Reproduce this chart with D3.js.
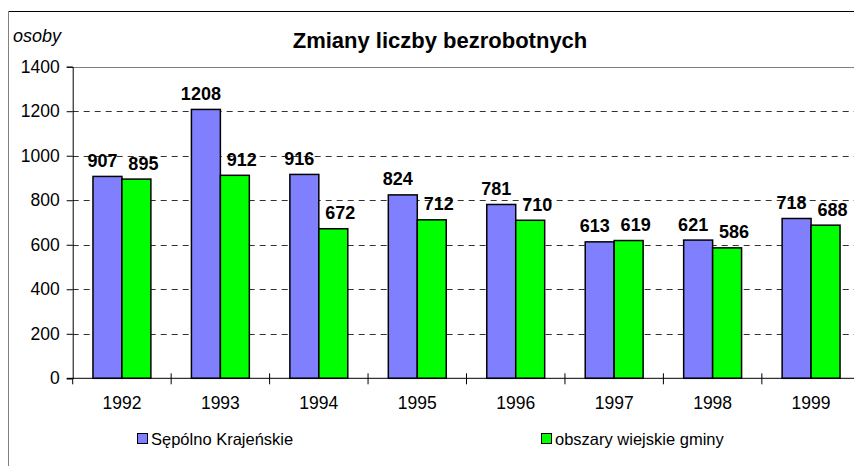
<!DOCTYPE html>
<html>
<head>
<meta charset="utf-8">
<script src="https://cdn.jsdelivr.net/npm/d3@7"></script>
<style>
  html, body { margin: 0; padding: 0; background: #fff; }
  svg { display: block; }
  text { font-family: "Liberation Sans", Arial, sans-serif; }
</style>
</head>
<body>
<svg id="chart" width="854" height="466"></svg>
<script>
const years = ["1992", "1993", "1994", "1995", "1996", "1997", "1998", "1999"];
const seriesNames = ["Sępólno Krajeńskie", "obszary wiejskie gminy"];
const sepolno = [907, 1208, 916, 824, 781, 613, 621, 718];
const wiejskie = [895, 912, 672, 712, 710, 619, 586, 688];
const yTicks = [0, 200, 400, 600, 800, 1000, 1200, 1400];
const colors = ["#8080FF", "#00FF00"];
const titleText = "Zmiany liczby bezrobotnych";
const unitText = "osoby";

const svg = d3.select("#chart");

// outer frame
svg.append("line").attr("x1", 8.5).attr("x2", 854).attr("y1", 11.5).attr("y2", 11.5)
  .attr("stroke", "#000").attr("stroke-width", 1);
svg.append("line").attr("x1", 8.5).attr("x2", 8.5).attr("y1", 11.5).attr("y2", 466)
  .attr("stroke", "#808080").attr("stroke-width", 1);

const x0 = d3.scaleBand().domain(years).range([72.7, 860.3]).padding(0);
const x1 = d3.scaleBand().domain(seriesNames).range([0, x0.bandwidth()]).paddingInner(0).paddingOuter(0.7);
const y = d3.scaleLinear().domain([0, 1400]).range([378.3, 66.7]);
const labelShift = [-5, 7];

// gridlines
const grid = svg.append("g");
grid.selectAll("line.g").data(yTicks.filter(d => d > 0 && d < 1400)).enter().append("line")
  .attr("x1", 72.7).attr("x2", 860).attr("y1", d => Math.round(y(d)) + 0.5).attr("y2", d => Math.round(y(d)) + 0.5)
  .attr("stroke", "#333").attr("stroke-dasharray", "6,5").attr("stroke-width", 1);
grid.append("line").attr("x1", 72.7).attr("x2", 860)
  .attr("y1", Math.round(y(1400)) + 0.5).attr("y2", Math.round(y(1400)) + 0.5)
  .attr("stroke", "#808080").attr("stroke-width", 1);

// bars
const data = years.map((yr, i) => ({ year: yr, values: [sepolno[i], wiejskie[i]] }));
const groups = svg.append("g").selectAll("g").data(data).enter().append("g")
  .attr("transform", d => `translate(${x0(d.year)},0)`);
groups.selectAll("rect").data(d => d.values.map((v, k) => ({ name: seriesNames[k], v, k })))
  .enter().append("rect")
  .attr("x", d => x1(d.name))
  .attr("y", d => y(d.v))
  .attr("width", x1.bandwidth())
  .attr("height", d => y(0) - y(d.v))
  .attr("fill", d => colors[d.k])
  .attr("stroke", "#000").attr("stroke-width", 1.5);
groups.selectAll("text").data(d => d.values.map((v, k) => ({ name: seriesNames[k], v, k })))
  .enter().append("text")
  .attr("x", d => x1(d.name) + x1.bandwidth() / 2 + labelShift[d.k])
  .attr("y", d => y(d.v) - 9.5)
  .attr("text-anchor", "middle")
  .attr("font-size", 18).attr("font-weight", "bold").attr("fill", "#000")
  .text(d => d.v);

// y axis
const yAxis = d3.axisLeft(y).tickValues(yTicks).tickSize(6).tickPadding(7).tickFormat(d3.format("d"));
const gy = svg.append("g").attr("transform", "translate(72.7,0)").call(yAxis);
gy.select(".domain").attr("stroke", "#000");
gy.selectAll(".tick line").attr("stroke", "#000");
gy.selectAll(".tick text").attr("font-size", 17.5).attr("font-family", "Liberation Sans, Arial, sans-serif").attr("fill", "#000");

// x axis
const gx = svg.append("g").attr("transform", `translate(0,${y(0)})`);
gx.append("line").attr("x1", 67).attr("x2", 860).attr("y1", 0).attr("y2", 0).attr("stroke", "#000");
gx.selectAll("line.t").data(years.slice(1)).enter().append("line")
  .attr("x1", d => x0(d)).attr("x2", d => x0(d)).attr("y1", -5).attr("y2", 6).attr("stroke", "#000");
gx.append("line").attr("x1", 72.7).attr("x2", 72.7).attr("y1", 0).attr("y2", 6).attr("stroke", "#000");
gx.selectAll("text").data(years).enter().append("text")
  .attr("x", d => x0(d) + x0.bandwidth() / 2).attr("y", 31)
  .attr("text-anchor", "middle").attr("font-size", 17.5).attr("fill", "#000").text(d => d);

// title & unit
svg.append("text").attr("x", 440).attr("y", 48).attr("text-anchor", "middle")
  .attr("font-size", 22).attr("font-weight", "bold").attr("fill", "#000").text(titleText);
svg.append("text").attr("x", 13).attr("y", 42)
  .attr("font-size", 18).attr("font-style", "italic").attr("fill", "#000").text(unitText);

// legend
const legendX = [137, 541];
const leg = svg.append("g").selectAll("g").data(seriesNames).enter().append("g")
  .attr("transform", (d, i) => `translate(${legendX[i]},433)`);
leg.append("rect").attr("x", 0.5).attr("y", 0.5).attr("width", 10).attr("height", 10)
  .attr("fill", (d, i) => colors[i]).attr("stroke", "#000").attr("stroke-width", 1);
leg.append("text").attr("x", 14).attr("y", 11.5).attr("font-size", 16.5).attr("fill", "#000").text(d => d);
</script>
</body>
</html>
